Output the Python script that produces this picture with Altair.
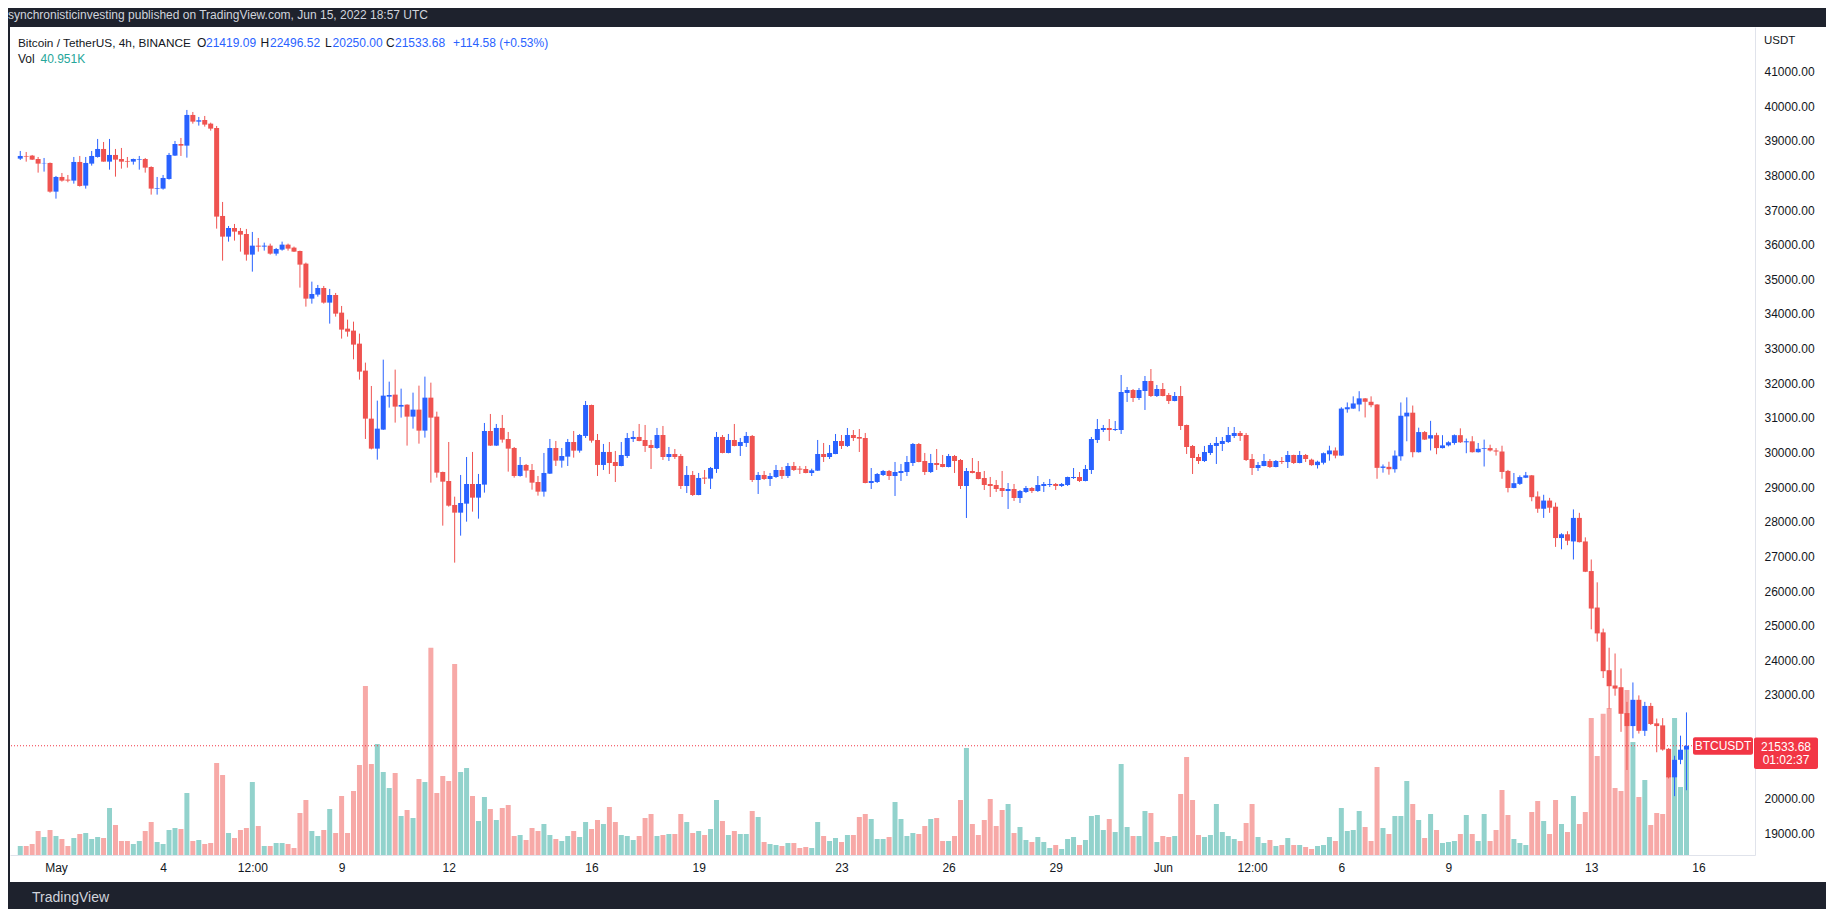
import altair as alt
import pandas as pd

# ---------------- data ----------------
START = "2022-04-30 00:00"          # first 4h candle (UTC)

OPEN = [38483, 38560, 38570, 38473, 38348, 38358, 37530, 37954, 37877, 37848,
        38387, 37704, 38339, 38531, 38762, 38396, 38589, 38473, 38416, 38396,
        38454, 38473, 38242, 37617, 37617, 37896, 38570, 38906, 38858, 39744,
        39551, 39599, 39493, 39368, 36828, 36231, 36481, 36395, 36308, 35712,
        35971, 35943, 35971, 35740, 35856, 36000, 35914, 35817, 35452, 34441,
        34557, 34749, 34326, 34547, 34037, 33575, 33518, 33142, 32363, 30977,
        30111, 30660, 31612, 31670, 31324, 31381, 31035, 31237, 30631, 31583,
        31035, 29437, 29177, 28485, 28263, 28523, 29091, 28696, 29072, 30621,
        30198, 30708, 30390, 30130, 29322, 29640, 29495, 29148, 28869, 29389,
        30130, 29765, 29880, 30303, 30053, 30477, 31371, 30361, 29640, 30015,
        29726, 29610, 29899, 30390, 30448, 30361, 30217, 30130, 30505, 29870,
        29957, 29899, 29033, 29351, 28773, 29274, 29245, 29524, 30448, 29986,
        30361, 30188, 30275, 30477, 29206, 29351, 29235, 29293, 29495, 29322,
        29610, 29534, 29524, 29408, 29475, 29957, 29870, 29957, 30332, 30188,
        30505, 30447, 30418, 29119, 29148, 29350, 29466, 29321, 29408, 29437,
        29697, 30245, 29754, 29437, 29697, 29668, 29581, 29899, 29783, 29033,
        29466, 29437, 29264, 29091, 29062, 28975, 28888, 28946, 28686, 28860,
        28975, 28888, 29033, 29062, 29091, 29033, 29062, 29264, 29293, 29177,
        29495, 30361, 30649, 30707, 30649, 30649, 31718, 31804, 31573, 31775,
        32064, 31631, 31833, 31660, 31487, 31631, 30794, 30188, 29870, 29754,
        29985, 30188, 30245, 30303, 30476, 30563, 30505, 29812, 29552, 29610,
        29754, 29581, 29754, 29726, 29928, 29697, 29928, 29792, 29635, 29704,
        29949, 30058, 29910, 31247, 31267, 31385, 31562, 31464, 31385, 29556,
        29585, 29517, 29890, 31041, 31149, 30008, 30589, 30402, 30500, 30127,
        30205, 30274, 30500, 30294, 30323, 30008, 30107, 30127, 30058, 30028,
        29468, 28976, 29094, 29271, 29340, 28730, 28376, 28612, 28435, 27530,
        27639, 27432, 28111, 27432, 26577, 25524, 24807, 23715, 23273, 23224,
        22477, 22102, 22860, 21965, 22683, 22181, 22122, 21444, 20622, 21128,
        21419.09]

HIGH = [38704, 38675, 38589, 38531, 38502, 38370, 37983, 38069, 38011, 38531,
        38560, 38531, 38704, 39051, 38964, 39051, 38762, 38791, 38531, 38483,
        38560, 38502, 38262, 37954, 38011, 38647, 38993, 39080, 39888, 39830,
        39686, 39715, 39522, 39426, 37232, 36539, 36597, 36481, 36453, 36366,
        36193, 36058, 36029, 35904, 36087, 36029, 35943, 35827, 35481, 34932,
        34836, 34807, 34721, 34605, 34230, 33835, 33777, 33431, 32594, 31920,
        31497, 32680, 32045, 32392, 31843, 31390, 31728, 31930, 32190, 32016,
        31179, 29447, 30303, 28725, 29351, 29870, 30015, 29380, 30852, 31112,
        30823, 31083, 30592, 30159, 29870, 29668, 29668, 29322, 29986, 30390,
        30332, 30130, 30390, 30621, 30534, 31487, 31381, 30534, 30246, 30303,
        30044, 30303, 30563, 30621, 30823, 30794, 30361, 30708, 30765, 30159,
        30101, 29957, 29610, 29466, 29409, 29495, 29582, 30592, 30505, 30534,
        30823, 30419, 30592, 30505, 29437, 29466, 29409, 29640, 29582, 29697,
        29726, 29610, 29610, 29533, 30361, 30274, 30216, 30534, 30505, 30707,
        30649, 30678, 30563, 29552, 29408, 29495, 29495, 29726, 29668, 29899,
        30274, 30274, 29986, 29957, 30101, 29928, 29957, 29928, 29812, 29552,
        29841, 29754, 29466, 29293, 29206, 29466, 29119, 29091, 28917, 29033,
        29004, 29321, 29148, 29235, 29119, 29119, 29302, 29552, 29437, 29639,
        30447, 30967, 30794, 30967, 30909, 32237, 31891, 31833, 31862, 32208,
        32410, 31949, 32006, 31718, 31746, 31920, 30804, 30216, 29957, 30188,
        30274, 30447, 30447, 30736, 30736, 30620, 30563, 29957, 29726, 29957,
        29812, 29783, 29870, 30043, 29937, 30043, 29957, 29822, 29763, 29999,
        30195, 30146, 31306, 31444, 31621, 31769, 31572, 31621, 31395, 29654,
        29733, 30058, 31444, 31591, 31355, 30716, 30618, 30913, 30569, 30500,
        30323, 30520, 30697, 30402, 30471, 30274, 30372, 30225, 30127, 30195,
        29497, 29408, 29339, 29438, 29350, 28877, 28779, 28690, 28553, 27668,
        27727, 28357, 28258, 27550, 26911, 26252, 24915, 24364, 24197, 23765,
        22801, 23361, 22988, 22801, 22771, 22319, 22332, 21466, 21244, 21825,
        22496.52]

LOW = [38444, 38396, 38444, 38079, 38108, 37501, 37328, 37819, 37800, 37761,
       37675, 37617, 38281, 38512, 38396, 38165, 37963, 38194, 38223, 38310,
       38165, 38079, 37444, 37444, 37588, 37877, 38560, 38560, 38512, 39493,
       39436, 39407, 39291, 36462, 35538, 36087, 36116, 35798, 35538, 35221,
       35798, 35827, 35712, 35683, 35827, 35827, 35789, 34759, 34211, 34297,
       34499, 34297, 33720, 33922, 33287, 33344, 32690, 32103, 30390, 30090,
       29793, 30650, 31295, 30862, 31006, 30198, 30688, 30255, 30429, 29130,
       29274, 27888, 28437, 26820, 27599, 28003, 28292, 28090, 28841, 30188,
       30188, 30284, 29447, 29274, 29303, 29274, 28927, 28754, 28725, 29380,
       29610, 29562, 29610, 29851, 29995, 30419, 30284, 29322, 29495, 29380,
       29148, 29601, 29842, 30303, 30323, 30015, 29524, 30101, 29784, 29755,
       29813, 28947, 28831, 28745, 28765, 29091, 28947, 29409, 29976, 29976,
       30178, 29899, 30159, 29148, 28802, 29206, 29033, 29264, 29235, 29264,
       29466, 29380, 29399, 29321, 29466, 29726, 29812, 29950, 30101, 30159,
       30332, 30014, 29110, 28946, 29119, 29321, 29206, 28744, 29177, 29321,
       29610, 29716, 29350, 29408, 29495, 29571, 29571, 29408, 28946, 28109,
       29398, 29225, 28917, 28715, 28860, 28715, 28369, 28600, 28542, 28831,
       28831, 28860, 28860, 29004, 28917, 29004, 29033, 29235, 29148, 29167,
       29379, 30274, 30592, 30332, 30620, 30534, 31458, 31458, 31515, 31227,
       31602, 31602, 31621, 31400, 31477, 30649, 29957, 29379, 29668, 29726,
       29928, 29668, 30043, 30274, 30418, 30332, 29754, 29350, 29466, 29600,
       29552, 29571, 29668, 29552, 29668, 29687, 29726, 29615, 29536, 29654,
       29763, 29832, 29900, 31149, 31257, 31188, 31011, 31306, 29241, 29418,
       29359, 29418, 29763, 30323, 29861, 29998, 30362, 30058, 29949, 30117,
       30176, 30225, 30274, 29979, 29999, 29999, 29595, 30028, 29910, 29241,
       28848, 28966, 29064, 29261, 28592, 28258, 28111, 28258, 27275, 27206,
       27324, 26911, 27403, 26547, 24895, 24541, 23489, 22604, 22978, 21935,
       20834, 21749, 21886, 21817, 22132, 21345, 21392, 20590, 20080, 21002,
       20250.00]

CLOSE = [38560, 38541, 38454, 38339, 38358, 37530, 37954, 37848, 37848, 38387,
         37694, 38358, 38560, 38762, 38396, 38589, 38454, 38396, 38396, 38473,
         38473, 38223, 37617, 37636, 37925, 38589, 38906, 38858, 39744, 39551,
         39590, 39465, 39349, 36809, 36231, 36481, 36376, 36289, 35712, 35971,
         35943, 35971, 35740, 35875, 36000, 35885, 35798, 35423, 34441, 34576,
         34749, 34326, 34547, 34008, 33547, 33489, 33114, 32334, 30977, 30111,
         30688, 31641, 31660, 31324, 31372, 31035, 31237, 30631, 31583, 31006,
         29418, 29158, 28465, 28263, 28542, 29091, 28696, 29091, 30621, 30198,
         30708, 30371, 30111, 29322, 29640, 29476, 29129, 28869, 29409, 30130,
         29765, 29899, 30303, 30053, 30505, 31371, 30342, 29640, 30015, 29697,
         29610, 29928, 30419, 30448, 30332, 30188, 30130, 30505, 29870, 29957,
         29870, 29033, 29351, 28773, 29264, 29245, 29553, 30448, 29986, 30361,
         30188, 30303, 30477, 29206, 29351, 29235, 29322, 29495, 29322, 29610,
         29495, 29505, 29408, 29485, 29957, 29870, 29986, 30332, 30188, 30505,
         30418, 30399, 29119, 29177, 29379, 29466, 29321, 29437, 29466, 29726,
         30245, 29726, 29437, 29697, 29639, 29581, 29899, 29754, 29033, 29466,
         29408, 29235, 29062, 29033, 28946, 28888, 28946, 28686, 28888, 28975,
         28888, 29062, 29091, 29091, 29033, 29091, 29293, 29293, 29177, 29524,
         30390, 30678, 30707, 30649, 30678, 31746, 31804, 31573, 31804, 32064,
         31631, 31833, 31631, 31487, 31631, 30765, 30159, 29841, 29754, 30014,
         30216, 30274, 30332, 30505, 30563, 30476, 29783, 29552, 29639, 29754,
         29581, 29754, 29726, 29928, 29697, 29928, 29812, 29635, 29733, 29979,
         30058, 29910, 31267, 31306, 31415, 31562, 31464, 31365, 29556, 29595,
         29517, 29910, 31060, 31149, 30008, 30589, 30372, 30500, 30127, 30205,
         30294, 30500, 30294, 30323, 30008, 30107, 30127, 30058, 30028, 29438,
         28976, 29114, 29290, 29340, 28710, 28376, 28612, 28406, 27530, 27639,
         27452, 28111, 27412, 26557, 25495, 24777, 23686, 23253, 23184, 22457,
         22102, 22860, 21965, 22683, 22161, 22102, 21424, 20622, 21128, 21419,
         21533.68]

VOLUME = [3510, 3510, 4290, 9360, 7020, 9750, 7410, 6240, 3510, 6630,
          8190, 8580, 6240, 7020, 6630, 18330, 11700, 5460, 5460, 4290,
          5460, 9360, 12870, 5070, 4290, 9750, 10530, 10140, 24180, 5460,
          5850, 4290, 4680, 35880, 31200, 8580, 6630, 9750, 10530, 28470,
          11310, 3510, 3510, 4680, 4680, 4290, 2730, 16380, 21450, 9360,
          7410, 9750, 17940, 8580, 23010, 8580, 24960, 35100, 65910, 35490,
          43290, 32370, 26130, 31980, 15210, 17550, 14430, 29640, 28470, 80860,
          24180, 30810, 28860, 74490, 32370, 33930, 23010, 13260, 22620, 17940,
          13650, 18330, 19500, 7410, 7800, 5850, 10530, 9360, 12090, 7800,
          6240, 5460, 7410, 9360, 7020, 12870, 10140, 13650, 12090, 18720,
          12870, 7800, 7410, 5850, 7410, 14430, 15990, 7410, 7800, 8190,
          8190, 15990, 12870, 8580, 9360, 7800, 10140, 21450, 13260, 7800,
          9360, 8190, 8190, 17160, 14820, 5070, 4290, 3900, 3510, 4680,
          4680, 2730, 3120, 2730, 12870, 7410, 5460, 6630, 5070, 7800,
          7800, 14820, 15990, 14040, 6240, 6240, 7020, 20670, 14040, 7410,
          8580, 8190, 11310, 14040, 14430, 5460, 5460, 7410, 21450, 41730,
          12090, 7800, 13650, 21840, 11310, 17550, 19890, 8580, 10920, 5850,
          5070, 7020, 5070, 2730, 3900, 2340, 6240, 7020, 3900, 5850,
          15210, 15600, 9750, 14040, 8970, 35490, 10920, 7410, 7410, 17160,
          16380, 5070, 7410, 7020, 7410, 23790, 38220, 21450, 7800, 7020,
          7800, 19890, 8970, 7410, 6240, 5460, 12480, 19890, 7020, 4680,
          5850, 3510, 3900, 6630, 3900, 3900, 3120, 2340, 3510, 3900,
          7020, 5460, 18330, 9360, 9750, 17160, 10920, 5460, 34320, 10530,
          8190, 15210, 15210, 28860, 19890, 13650, 6630, 15990, 9750, 4680,
          5070, 5460, 8190, 15600, 8190, 5460, 15990, 5460, 9750, 25350,
          15600, 6240, 4680, 3900, 16770, 21060, 13260, 8190, 21450, 12090,
          8970, 23010, 12090, 16770, 53430, 38610, 55120, 57330, 26130, 24960,
          64350, 44070, 22620, 29250, 11700, 16380, 15990, 30810, 53430, 26520,
          40951]

TICK_TIMES = ["2022-05-01 00:00", "2022-05-04 00:00", "2022-05-06 12:00", "2022-05-09 00:00",
              "2022-05-12 00:00", "2022-05-16 00:00", "2022-05-19 00:00", "2022-05-23 00:00",
              "2022-05-26 00:00", "2022-05-29 00:00", "2022-06-01 00:00", "2022-06-03 12:00",
              "2022-06-06 00:00", "2022-06-09 00:00", "2022-06-13 00:00", "2022-06-16 00:00"]
TICK_LABELS = ["May", "4", "12:00", "9", "12", "16", "19", "23", "26", "29",
               "Jun", "12:00", "6", "9", "13", "16"]
PRICE_TICKS = list(range(19000, 41001, 1000))

HEADER = "synchronisticinvesting published on TradingView.com, Jun 15, 2022 18:57 UTC"
TITLE = "Bitcoin / TetherUS, 4h, BINANCE"
LEGEND_KEYS = ["O", "H", "L", "C"]
LEGEND_VALUES = ["21419.09", "22496.52", "20250.00", "21533.68"]
CHANGE = "+114.58 (+0.53%)"
VOL_TEXT = "40.951K"
SYMBOL = "BTCUSDT"
LAST_PRICE_TEXT = "21533.68"
COUNTDOWN = "01:02:37"
CURRENCY = "USDT"
BRAND = "TradingView"

# ---------------- styling ----------------
FONT = "Liberation Sans"
BLUE, RED = "#2962ff", "#ef5350"
TEAL_V, PINK_V = "#92d2cc", "#f7a9a7"
DARK_BG = "#1e222d"
TEXT = "#131722"
LINE = "#e0e3eb"

n = len(OPEN)
assert len(HIGH) == n and len(LOW) == n and len(CLOSE) == n and len(VOLUME) == n, (
    len(OPEN), len(HIGH), len(LOW), len(CLOSE), len(VOLUME))

times = pd.date_range(pd.Timestamp(START, tz="UTC"), periods=n, freq="4h")
df = pd.DataFrame({
    "time": times.strftime("%Y-%m-%dT%H:%M:%SZ"),
    "open": OPEN, "high": HIGH, "low": LOW, "close": CLOSE, "volume": VOLUME,
})


def ms(ts):
    return int(pd.Timestamp(ts, tz="UTC").value // 1_000_000)


HOUR = 3_600_000
t0 = ms(START)
x_domain = [t0 - 3.54 * HOUR, t0 + 1162.7 * HOUR]
tick_ms = [ms(t) for t in TICK_TIMES]
label_expr = "".join(f"time(datum.value) == {v} ? '{lab}' : "
                     for v, lab in zip(tick_ms, TICK_LABELS)) + "''"

W, H = 1745, 828
price_scale = alt.Scale(domain=[18380, 42283], nice=False, zero=False)
vol_scale = alt.Scale(domain=[0, 323000], nice=False)
last_close = CLOSE[-1]
# the price-scale label hidden behind the last-price box
axis_prices = [p for p in PRICE_TICKS if abs(p - last_close) > 700]

x_enc = alt.X(
    "time:T",
    scale=alt.Scale(type="utc", domain=x_domain, nice=False),
    axis=alt.Axis(values=tick_ms, labelExpr=label_expr, ticks=False, grid=False,
                  domainColor=LINE, labelColor=TEXT, labelFontSize=12, labelFont=FONT,
                  labelPadding=7, labelAngle=0, labelOverlap=False, labelFlush=False,
                  title=None),
)
up = "datum.close >= datum.open"

base = alt.Chart(df)
deco = alt.Chart(pd.DataFrame({"k": [0]}))

volume = base.mark_bar(size=5).encode(
    x=x_enc,
    y=alt.Y("volume:Q", scale=vol_scale, axis=None),
    color=alt.condition(up, alt.value(TEAL_V), alt.value(PINK_V)),
)

price_line = deco.mark_rule(color="#f23645", strokeDash=[1, 2], strokeWidth=1).encode(
    y=alt.Y(datum=last_close, scale=price_scale, axis=None)
)

wicks = base.mark_rule(strokeWidth=1).encode(
    x=x_enc,
    y=alt.Y("low:Q", scale=price_scale, axis=None),
    y2="high:Q",
    color=alt.condition(up, alt.value(BLUE), alt.value(RED)),
)

bodies = base.mark_bar(size=5).encode(
    x=x_enc,
    y=alt.Y("open:Q", scale=price_scale,
            axis=alt.Axis(orient="right", values=axis_prices, format=".2f", ticks=False,
                          grid=False, domainColor=LINE, labelColor=TEXT, labelFontSize=12,
                          labelFont=FONT, labelPadding=9, title=None, labelFlush=False)),
    y2="close:Q",
    color=alt.condition(up, alt.value(BLUE), alt.value(RED)),
)

# decorative frame (dark header / footer like the TradingView snapshot)
header_band = deco.mark_rect(color=DARK_BG).encode(
    x=alt.value(-2), x2=alt.value(1816), y=alt.value(-19), y2=alt.value(0))
footer_band = deco.mark_rect(color=DARK_BG).encode(
    x=alt.value(-2), x2=alt.value(1816), y=alt.value(855), y2=alt.value(882))
left_band = deco.mark_rect(color=DARK_BG).encode(
    x=alt.value(-2), x2=alt.value(0), y=alt.value(0), y2=alt.value(855))


def txt(s, x, y, color=TEXT, size=12, align="left", weight="normal", **kw):
    return deco.mark_text(text=s, align=align, baseline="middle", font=FONT, fontSize=size,
                          color=color, fontWeight=weight, **kw).encode(
        x=alt.value(x), y=alt.value(y))


texts = [
    txt(HEADER, -2, -12.5, color="#d1d4dc", size=12),
    txt(TITLE, 8, 15.7, size=11.8),
    txt(CURRENCY, 1754, 14, size=11.5),
    txt("Vol", 8, 32, size=12),
    txt(VOL_TEXT, 30.5, 32, color="#26a69a", size=12),
    txt(CHANGE, 443, 15.7, color=BLUE, size=12),
    txt(BRAND, 22, 871, color="#d1d4dc", size=14),
]
for key, kx, vx, val in zip(LEGEND_KEYS, [187, 250.5, 315, 376], [196, 260, 322.6, 385],
                            LEGEND_VALUES):
    texts.append(txt(key, kx, 15.7, size=12))
    texts.append(txt(val, vx, 15.7, color=BLUE, size=12))

# last-price labels on the price line and on the price scale
sym_box = deco.mark_rect(color="#f23645", cornerRadius=2, yOffset=-8.5, y2Offset=9).encode(
    x=alt.value(1683), x2=alt.value(1743),
    y=alt.Y(datum=last_close, scale=price_scale, axis=None), y2=alt.Y2(datum=last_close))
sym_text = deco.mark_text(text=SYMBOL, color="white", font=FONT, fontSize=12,
                          align="center", baseline="middle", dy=0.5).encode(
    x=alt.value(1713), y=alt.Y(datum=last_close, scale=price_scale, axis=None))
px_box = deco.mark_rect(color="#f23645", cornerRadius=2, yOffset=-8.2, y2Offset=23.2).encode(
    x=alt.value(1744), x2=alt.value(1808),
    y=alt.Y(datum=last_close, scale=price_scale, axis=None), y2=alt.Y2(datum=last_close))
px_text = deco.mark_text(text=LAST_PRICE_TEXT, color="white", font=FONT, fontSize=12,
                         align="center", baseline="middle", dy=0.8).encode(
    x=alt.value(1776), y=alt.Y(datum=last_close, scale=price_scale, axis=None))
cd_text = deco.mark_text(text=COUNTDOWN, color="white", font=FONT, fontSize=12,
                         align="center", baseline="middle", dy=14.3).encode(
    x=alt.value(1776), y=alt.Y(datum=last_close, scale=price_scale, axis=None))

chart = alt.layer(
    volume, price_line, wicks, bodies,
    header_band, footer_band, left_band,
    *texts,
    sym_box, sym_text, px_box, px_text, cd_text,
).resolve_scale(y="independent").properties(
    width=W, height=H,
    padding={"left": 2, "top": 19, "right": 71, "bottom": 54},
    autosize=alt.AutoSizeParams(type="none"),
    background="white",
).configure_view(strokeWidth=0)

chart.save("out.html", embed_options={"renderer": "svg", "actions": False})
